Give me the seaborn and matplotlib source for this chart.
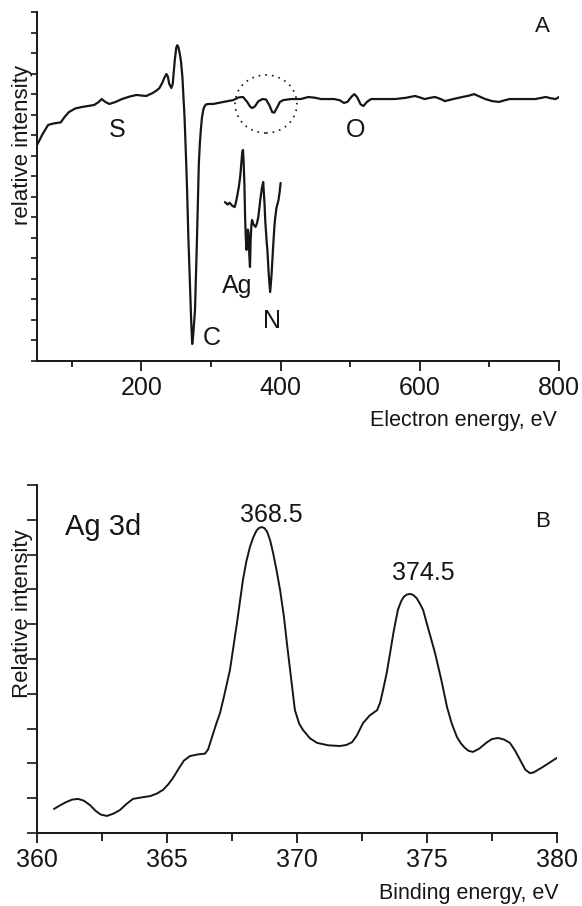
import matplotlib
matplotlib.use("Agg")
import matplotlib.pyplot as plt
import seaborn as sns
from matplotlib.patches import Ellipse
from matplotlib.ticker import FixedLocator

# Panel A: survey spectrum (electron energy, eV / relative intensity, arb. units)
survey_ev = [50, 58, 66, 75, 84, 90, 96, 105, 114, 123, 132, 138, 143, 148, 154, 163, 172,
             183, 193, 200, 207, 216, 222, 226, 230, 233, 236, 238, 240, 243, 245, 248, 250,
             251.5, 253, 255, 257, 259, 260.5, 262, 264, 265.5, 267.5, 270, 271.5, 273,
             274.5, 277, 279.5, 281, 282.5, 284, 285.5, 287, 289, 291, 293, 297, 303, 318,
             332, 340, 346, 352, 356, 359, 363, 368, 374, 379, 384, 388, 391, 395, 399, 404,
             415, 429, 440, 450, 458, 477, 485, 491, 496, 502, 506, 510, 515, 519, 524, 530,
             545, 564, 580, 593, 600, 607, 615, 622, 630, 636, 648, 661, 670, 678, 686, 694,
             704, 714, 722, 729, 750, 766, 775, 781, 788, 795, 800]
survey_int = [10.52, 11.05, 11.50, 11.58, 11.62, 11.90, 12.13, 12.30, 12.37, 12.42, 12.47,
              12.60, 12.76, 12.62, 12.52, 12.62, 12.76, 12.88, 12.96, 12.93, 12.91, 13.05,
              13.18, 13.30, 13.55, 13.80, 13.98, 13.85, 13.50, 13.30, 13.50, 14.66, 15.25,
              15.38, 15.30, 15.00, 14.56, 13.80, 12.80, 11.88, 10.00, 8.50, 6.00, 3.50,
              2.00, 0.83, 1.30, 2.48, 5.50, 7.50, 9.60, 10.60, 11.30, 11.85, 12.25, 12.42,
              12.50, 12.52, 12.52, 12.62, 12.71, 12.84, 12.86, 12.62, 12.40, 12.32, 12.40,
              12.65, 12.76, 12.74, 12.45, 12.12, 12.10, 12.35, 12.62, 12.71, 12.76, 12.76,
              12.86, 12.82, 12.76, 12.76, 12.70, 12.57, 12.62, 12.88, 13.00, 12.85, 12.50,
              12.42, 12.62, 12.76, 12.76, 12.76, 12.82, 12.91, 12.84, 12.76, 12.82, 12.86,
              12.76, 12.66, 12.76, 12.86, 12.92, 13.00, 12.88, 12.76, 12.66, 12.62, 12.70,
              12.76, 12.76, 12.76, 12.82, 12.86, 12.80, 12.76, 12.86]

# magnified Ag / N region shown inside panel A
zoom_ev = [320, 322, 324, 326, 327, 329, 331, 334, 336, 338, 340, 342, 344, 345, 346, 347,
           348, 349, 350, 351, 352, 353, 354, 355, 356, 357, 358, 359, 361, 364, 366, 368,
           371, 373, 375, 377, 378, 380, 381, 383, 385, 387, 389, 391, 392, 394, 397, 398.5,
           400]
zoom_int = [7.74, 7.68, 7.62, 7.70, 7.70, 7.62, 7.55, 7.50, 7.75, 8.10, 8.48, 9.00, 9.80,
            10.20, 10.28, 9.60, 8.60, 7.01, 6.00, 5.41, 6.10, 6.40, 6.23, 5.20, 4.58, 5.90,
            6.60, 6.87, 6.65, 6.53, 6.70, 7.01, 7.90, 8.40, 8.72, 7.60, 6.80, 5.80, 5.41,
            4.20, 3.36, 4.20, 5.41, 6.50, 6.90, 7.45, 7.84, 8.20, 8.67]

survey_labels = ["S", "C", "Ag", "N", "O"]
survey_label_ev = [165, 301, 337, 388, 508]
survey_label_y = [10.91, 0.78, 3.31, 1.61, 10.91]

# Panel B: Ag 3d region (binding energy, eV)
ag_ev = [360.65, 360.9, 361.1, 361.35, 361.58, 361.8, 362.04, 362.25, 362.45, 362.69,
         362.95, 363.19, 363.45, 363.69, 364.0, 364.35, 364.6, 364.85, 365.05, 365.23,
         365.45, 365.65, 365.88, 366.2, 366.46, 366.58, 366.75, 366.9, 367.04, 367.2,
         367.42, 367.69, 367.92, 368.05, 368.19, 368.32, 368.45, 368.55, 368.65, 368.75,
         368.85, 368.97, 369.08, 369.2, 369.35, 369.5, 369.62, 369.78, 369.92, 370.08,
         370.23, 370.5, 370.77, 371.2, 371.65, 371.9, 372.12, 372.3, 372.54, 372.8,
         373.08, 373.2, 373.31, 373.45, 373.58, 373.72, 373.88, 374.0, 374.1, 374.22,
         374.35, 374.47, 374.6, 374.72, 374.85, 375.0, 375.15, 375.31, 375.55, 375.77,
         375.95, 376.15, 376.3, 376.45, 376.6, 376.77, 377.0, 377.31, 377.5, 377.73,
         377.95, 378.19, 378.4, 378.58, 378.78, 378.96, 379.1, 379.46, 380.0]
ag_int = [0.69, 0.80, 0.88, 0.96, 0.98, 0.93, 0.80, 0.64, 0.53, 0.49,
          0.56, 0.66, 0.84, 0.98, 1.02, 1.06, 1.13, 1.24, 1.40, 1.58,
          1.85, 2.08, 2.21, 2.26, 2.28, 2.40, 2.80, 3.15, 3.45, 3.95,
          4.68, 6.03, 7.27, 7.80, 8.22, 8.50, 8.70, 8.77, 8.79, 8.76,
          8.66, 8.40, 8.05, 7.60, 6.98, 6.20, 5.40, 4.40, 3.53, 3.15,
          2.96, 2.72, 2.59, 2.52, 2.50, 2.53, 2.61, 2.80, 3.16, 3.38,
          3.53, 3.75, 4.11, 4.60, 5.17, 5.80, 6.41, 6.65, 6.78, 6.85,
          6.87, 6.84, 6.75, 6.60, 6.41, 6.00, 5.60, 5.17, 4.40, 3.62,
          3.15, 2.76, 2.58, 2.45, 2.36, 2.33, 2.42, 2.61, 2.70, 2.73,
          2.69, 2.59, 2.35, 2.10, 1.82, 1.72, 1.74, 1.90, 2.16]

ink = "#161616"

sns.set_style("ticks")
plt.rcParams["font.family"] = ["Liberation Sans", "DejaVu Sans"]

fig = plt.figure(figsize=(5.82, 9.06), dpi=100)
ax1 = fig.add_axes([37 / 582, 1 - 361 / 906, 522 / 582, 349 / 906])
ax2 = fig.add_axes([37 / 582, 1 - 833 / 906, 520 / 582, 348 / 906])

# --- panel A ---
sns.lineplot(x=survey_ev, y=survey_int, ax=ax1, color=ink, lw=1.6, estimator=None)
sns.lineplot(x=zoom_ev, y=zoom_int, ax=ax1, color=ink, lw=1.6, estimator=None)
for lab, xv, yv in zip(survey_labels, survey_label_ev, survey_label_y):
    ax1.text(xv, yv, lab, fontsize=18, ha="center", va="baseline", color=ink)
ax1.text(776, 16.03, "A", fontsize=16, ha="center", va="baseline", color=ink)
ax1.add_patch(Ellipse((379, 12.52), 89, 2.83, fill=False, ec=ink, lw=1.2,
                      linestyle=(0, (1, 3))))

ax1.set_xlim(50, 800)
ax1.set_ylim(0, 17)
ax1.xaxis.set_major_locator(FixedLocator([200, 400, 600, 800]))
ax1.xaxis.set_minor_locator(FixedLocator([100, 300, 500, 700]))
ax1.set_yticks(range(0, 18))
ax1.set_yticklabels([])
ax1.tick_params(axis="x", which="major", length=7, width=1.3, labelsize=18, pad=4, colors=ink)
ax1.tick_params(axis="x", which="minor", length=4, width=1.3, colors=ink)
ax1.tick_params(axis="y", length=4.5, width=1.2, colors=ink)
ax1.set_xlabel("Electron energy, eV", fontsize=15.5, loc="right", color=ink)
ax1.xaxis.set_label_coords(0.996, -0.14)
ax1.set_ylabel("relative intensity", fontsize=16, color=ink)
ax1.yaxis.set_label_coords(-0.008, 0.62)

# --- panel B ---
sns.lineplot(x=ag_ev, y=ag_int, ax=ax2, color=ink, lw=1.4, estimator=None)
ax2.text(361.08, 8.56, "Ag 3d", fontsize=21, ha="left", va="baseline", color=ink)
ax2.text(369.0, 8.94, "368.5", fontsize=18, ha="center", va="baseline", color=ink)
ax2.text(374.85, 7.27, "374.5", fontsize=18, ha="center", va="baseline", color=ink)
ax2.text(379.46, 8.79, "B", fontsize=16, ha="center", va="baseline", color=ink)

ax2.set_xlim(360, 380)
ax2.set_ylim(0, 10)
ax2.xaxis.set_major_locator(FixedLocator([360, 365, 370, 375, 380]))
ax2.xaxis.set_minor_locator(FixedLocator([362.5, 367.5, 372.5, 377.5]))
ax2.set_yticks(range(0, 11))
ax2.set_yticklabels([])
ax2.tick_params(axis="x", which="major", length=7, width=1.3, labelsize=18, pad=4, colors=ink)
ax2.tick_params(axis="x", which="minor", length=5.5, width=1.3, colors=ink)
ax2.tick_params(axis="y", length=7, width=1.2, colors=ink)
ax2.set_xlabel("Binding energy, eV", fontsize=15.5, loc="right", color=ink)
ax2.xaxis.set_label_coords(1.004, -0.144)
ax2.set_ylabel("Relative intensity", fontsize=16, color=ink)
ax2.yaxis.set_label_coords(-0.008, 0.629)

for ax in (ax1, ax2):
    sns.despine(ax=ax)
    for s in ("left", "bottom"):
        ax.spines[s].set_linewidth(1.4)
        ax.spines[s].set_color(ink)

fig.savefig("out.png", dpi=100, facecolor="white")
